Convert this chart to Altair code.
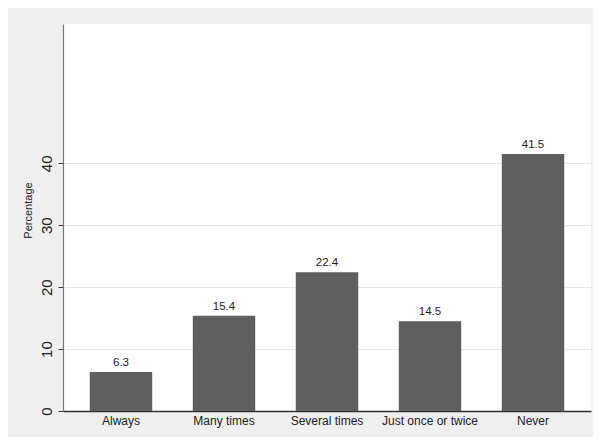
import altair as alt
import pandas as pd

categories = ["Always", "Many times", "Several times", "Just once or twice", "Never"]
values = [6.3, 15.4, 22.4, 14.5, 41.5]
y_ticks = [0, 10, 20, 30, 40]

df = pd.DataFrame({"cat": categories, "pct": values, "lbl": [f"{v:.1f}" for v in values]})

FONT = "Liberation Sans, Arial, Helvetica, sans-serif"

x = alt.X("cat:N", sort=categories, title=None,
          scale=alt.Scale(paddingInner=0.394, paddingOuter=0.26),
          axis=alt.Axis(labelAngle=0, ticks=False, labelPadding=4, labelFontSize=12,
                        labelFont=FONT, labelColor="#222222", domainColor="#333333",
                        domainWidth=1.5, grid=False))
y = alt.Y("pct:Q", title="Percentage",
          scale=alt.Scale(domain=[0, 62.5], nice=False),
          axis=alt.Axis(values=y_ticks, labelAngle=270, labelAlign="center",
                        labelBaseline="bottom", labelFontSize=15, labelFont=FONT,
                        labelColor="#222222", labelPadding=4, tickSize=5,
                        tickColor="#333333", domainColor="#777777", domainWidth=1.2,
                        gridColor="#e6e6e6", gridWidth=1, titleFontSize=11,
                        titleFont=FONT, titleFontWeight="normal", titleColor="#222222",
                        titlePadding=6, titleY=186))

bars = alt.Chart(df).mark_bar(color="#5f5f5f").encode(x=x, y=y)
text = alt.Chart(df).mark_text(baseline="alphabetic", dy=-6, fontSize=11.5, font=FONT,
                               color="#222222").encode(
    x=alt.X("cat:N", sort=categories), y="pct:Q", text="lbl:N")

chart = (bars + text).properties(
    width=528, height=387,
    background="#efefef",
    padding={"left": 55, "top": 16, "right": 2, "bottom": 26},
    autosize=alt.AutoSizeParams(type="none"),
).configure_view(fill="white", stroke=None)

chart.save("out.html", embed_options={"renderer": "svg", "actions": False})
